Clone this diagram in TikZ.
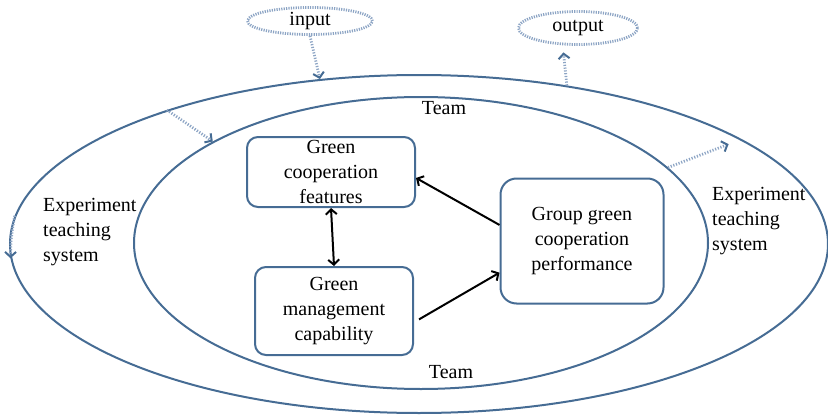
\documentclass[tikz,border=0pt]{standalone}
\usepackage{fontspec}
\setmainfont{Liberation Serif}
\usetikzlibrary{positioning,shapes.geometric,arrows.meta}
\definecolor{ringblue}{RGB}{70,108,148}
\definecolor{dotblue}{RGB}{140,164,196}

\begin{document}
\begin{tikzpicture}[x=1pt,y=-1pt,font=\fontsize{20}{25}\selectfont,
ring/.style={draw=ringblue, line width=2pt, ellipse, inner sep=0pt},
port/.style={draw=dotblue, line width=2.8pt, dash pattern=on 1.2pt off 1.2pt, ellipse, inner sep=0pt},
factor/.style={draw=ringblue, line width=2pt, rounded corners=11pt, align=center, inner sep=0pt},
flow/.style={dotblue, line width=2.8pt, dash pattern=on 1.2pt off 1.6pt, -{Straight Barb[color=ringblue, length=5pt, width=11pt, line width=2pt]}},
link/.style={black, line width=2pt, -{Straight Barb[length=5pt, width=11pt]}},
twoway/.style={link, {Straight Barb[length=5pt, width=11pt]}-{Straight Barb[length=5pt, width=11pt]}}]
\useasboundingbox (0,0) rectangle (828,415);
\node[ring, minimum width=818pt, minimum height=338pt] (system) at (419,244) {};
\node[ring, minimum width=574pt, minimum height=292pt] (team) at (421,243) {};
\node[port, minimum width=125pt, minimum height=27pt] (input) at (310,21) {input};
\node[port, minimum width=119pt, minimum height=33pt] (output) at (578,28) {output};
\node (teamtop) at (444,108) {Team};
\node (teambottom) at (451,372) {Team};
\node[align=left, anchor=west, inner sep=0pt] (leftsys) at (43,232) {Experiment\\teaching\\system};
\node[align=left, anchor=west, inner sep=0pt] (rightsys) at (712,221) {Experiment\\teaching\\system};
\node[factor, minimum width=168pt, minimum height=70pt] (features) at (331,172) {Green\\cooperation\\features};
\node[factor, minimum width=158pt, minimum height=88pt] (capability) at (334,311) {Green\\management\\capability};
\node[factor, rounded corners=16pt, minimum width=163pt, minimum height=125pt] (group) at (582,241) {Group green\\cooperation\\performance};
\draw[flow] (input.south) -- (system.121);
\draw[flow] (system.47) -- ([yshift=-7pt]output.230);
\draw[flow] (system.152) -- (team.154);
\draw[flow, shorten >=14pt] (team.17) -- (system.18);
\draw[flow] (system.176) to[bend right=5] (system.182);
\draw[twoway] (features.south) -- (capability.north);
\draw[link] (group.169) -- (features.-4);
\draw[link] ([xshift=5pt]capability.-6) -- (group.201);
\end{tikzpicture}
\end{document}
